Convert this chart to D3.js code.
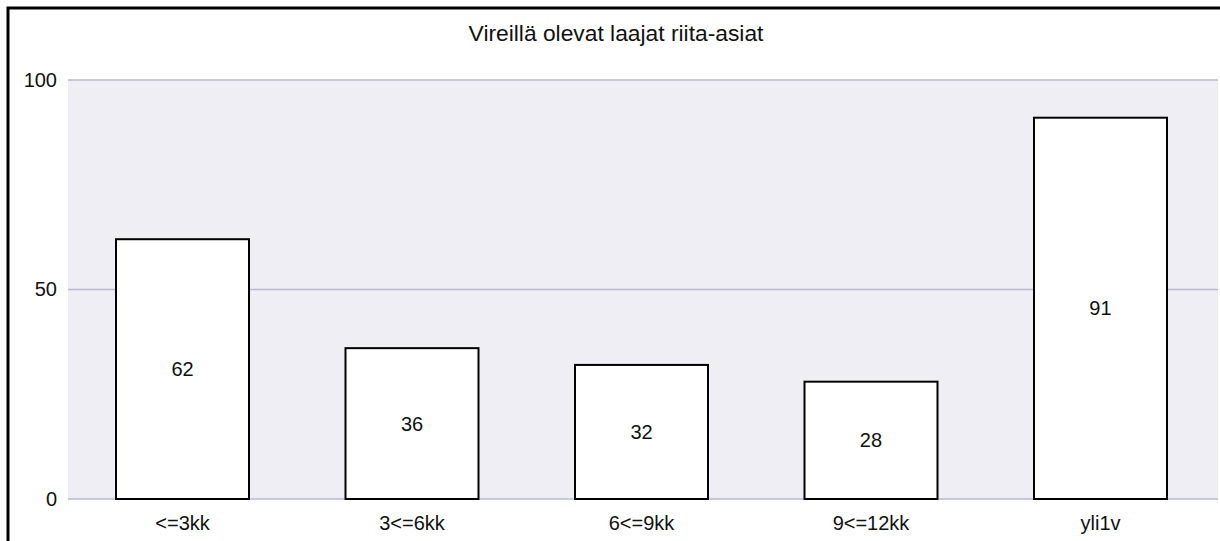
<!DOCTYPE html>
<html><head><meta charset="utf-8">
<script src="https://cdn.jsdelivr.net/npm/d3@7/dist/d3.min.js"></script>
<style>body{margin:0;background:#fff}svg{display:block}text{font-family:"Liberation Sans",Arial,sans-serif;fill:#111}</style>
</head><body><svg id="c" width="1220" height="541"></svg>
<script>
const title = "Vireillä olevat laajat riita-asiat";
const categories = ["<=3kk","3<=6kk","6<=9kk","9<=12kk","yli1v"];
const values = [62,36,32,28,91];
const yTicks = [0,50,100];

const svg = d3.select("#c");
const m = {left:68, right:1218, top:80, bottom:499};
const x = d3.scaleBand().domain(categories).range([m.left-1.5, m.right-1.5]).paddingInner(0.4205).paddingOuter(0.2157);
const y = d3.scaleLinear().domain([0,100]).range([m.bottom, m.top]);
const FONT = "Liberation Sans, Arial, sans-serif";

svg.append("rect").attr("x",m.left).attr("y",m.top).attr("width",m.right-m.left).attr("height",m.bottom-m.top).attr("fill","#efeef4");
svg.append("g").selectAll("line").data(yTicks).join("line")
  .attr("x1",m.left).attr("x2",m.right).attr("y1",d=>y(d)).attr("y2",d=>y(d))
  .attr("stroke","#b9b8d2").attr("stroke-width",1.5);

const yAxis = d3.axisLeft(y).tickValues(yTicks).tickSize(0).tickPadding(11);
svg.append("g").attr("transform",`translate(${m.left},0)`).call(yAxis)
  .call(g=>g.select(".domain").remove())
  .selectAll("text").style("font-size","20px").style("font-family",FONT).attr("fill","#111");

svg.append("g").selectAll("rect").data(values).join("rect")
  .attr("x",(d,i)=>x(categories[i])).attr("width",x.bandwidth())
  .attr("y",d=>y(d)).attr("height",d=>y(0)-y(d))
  .attr("fill","#fff").attr("stroke","#000").attr("stroke-width",2);

svg.append("g").selectAll("text").data(values).join("text")
  .attr("x",(d,i)=>x(categories[i])+x.bandwidth()/2)
  .attr("y",d=>(y(d)+y(0))/2).attr("dy","0.35em")
  .attr("text-anchor","middle").style("font-size","20px").text(d=>d);

const xAxis = d3.axisBottom(x).tickSize(0).tickPadding(17);
svg.append("g").attr("transform",`translate(0,${m.bottom})`).call(xAxis)
  .call(g=>g.select(".domain").remove())
  .selectAll("text").style("font-size","20px").style("font-family",FONT).attr("fill","#111");

svg.append("text").attr("x",616).attr("y",41).attr("text-anchor","middle").style("font-size","22.8px").text(title);

svg.append("rect").attr("x",8).attr("y",8).attr("width",1230).attr("height",560)
  .attr("fill","none").attr("stroke","#000").attr("stroke-width",3);
</script></body></html>
